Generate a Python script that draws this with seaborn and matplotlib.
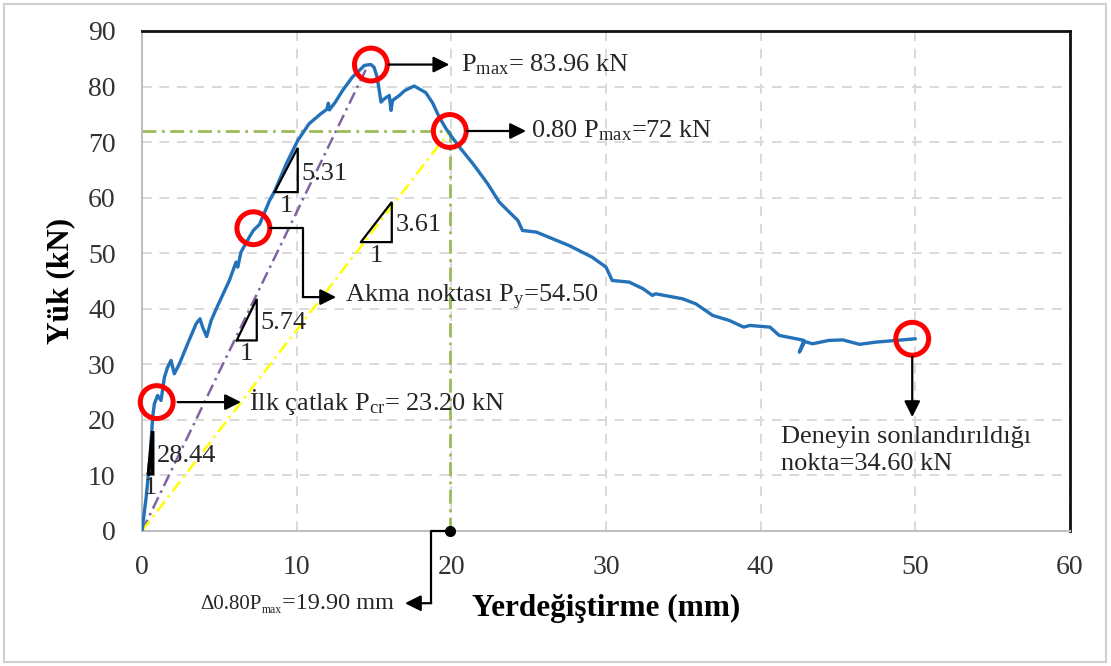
import matplotlib
matplotlib.use("Agg")
import matplotlib.pyplot as plt
import pandas as pd
import seaborn as sns
from matplotlib.patches import Rectangle

# Load-displacement record (mm, kN)
disp = [0, 0.27, 0.52, 0.69, 0.80, 1.01, 1.23, 1.45, 1.66, 1.88, 2.09, 2.42, 2.95,
        3.50, 3.75, 3.92, 4.18, 4.47, 4.90, 5.65, 6.08, 6.19, 6.40, 6.94, 7.20,
        7.60, 8.25, 8.60, 9.33, 10.07, 10.80, 11.56, 11.95, 12.05, 12.12, 12.50,
        12.97, 13.60, 14.16, 14.38, 14.60, 14.80, 15.00, 15.20, 15.34, 15.45,
        15.67, 15.99, 16.10, 16.20, 16.64, 17.00, 17.60, 18.35, 18.80, 19.20,
        19.66, 20.20, 20.70, 21.40, 22.35, 23.10, 23.75, 24.30, 24.60, 25.50,
        26.55, 27.60, 29.10, 30.00, 30.40, 31.50, 32.40, 33.00, 33.20, 34.95,
        35.80, 36.90, 37.97, 38.90, 39.30, 40.60, 41.20, 42.30, 42.80, 42.50,
        42.85, 43.35, 44.40, 45.30, 46.40, 47.45, 48.75, 50.00]
load = [0, 6.1, 13.3, 20.5, 22.9, 24.4, 23.5, 27.7, 29.5, 30.7, 28.3, 30.1, 33.7,
        37.3, 38.2, 36.7, 35.0, 37.9, 40.6, 45.1, 48.4, 47.5, 50.2, 52.9, 54.1,
        55.2, 59.5, 61.3, 66.1, 70.3, 73.3, 75.1, 75.9, 77.0, 75.8, 77.2,
        79.3, 81.7, 83.2, 83.8, 83.9, 83.96, 83.5, 81.7, 79.3, 77.2,
        77.8, 78.4, 75.7, 77.5, 78.4, 79.3, 80.1, 78.9, 77.0, 74.6,
        72.4, 70.3, 68.5, 66.1, 62.5, 59.2, 57.4, 55.9, 54.1, 53.8,
        52.6, 51.4, 49.3, 47.5, 45.1, 44.8, 43.6, 42.4, 42.7, 41.8,
        40.9, 38.8, 37.9, 36.7, 37.0, 36.7, 35.2, 34.6, 34.3, 32.2,
        34.1, 33.7, 34.3, 34.4, 33.6, 34.0, 34.3, 34.6]

# Characteristic points
x_cr, p_cr = 0.95, 23.20
x_y, p_y = 7.2, 54.50
x_max, p_max = 14.8, 83.96
x_80, p_80 = 19.9, 72.0
x_end, p_end = 49.8, 34.60

# Stiffness slopes
k_init = 28.44
k_pre = 5.74
k_curve = 5.31
k_sec = 3.61

x_ticks = [0, 10, 20, 30, 40, 50, 60]
y_ticks = [0, 10, 20, 30, 40, 50, 60, 70, 80, 90]

sns.set_theme(style="white")
plt.rcParams["font.family"] = ["Liberation Serif", "DejaVu Serif"]
plt.rcParams["mathtext.fontset"] = "custom"
plt.rcParams["mathtext.rm"] = "Liberation Serif"
plt.rcParams["mathtext.it"] = "Liberation Serif:italic"
plt.rcParams["mathtext.bf"] = "Liberation Serif:bold"

W, H = 1111, 666
fig = plt.figure(figsize=(W / 100, H / 100), dpi=100)
ax = fig.add_axes([142 / W, 1 - 531 / H, (1070 - 142) / W, (531 - 31) / H])

FS = 19
BLUE = "#2372b9"
RED = "#ff0000"
GREEN = "#9bbb59"
PURPLE = "#8064a2"
YELLOW = "#ffff00"
DASHDOT = (0, (5, 2, 1, 2))

ax.set_xlim(0, 60)
ax.set_ylim(0, 90)
ax.set_xticks(x_ticks)
ax.set_yticks(y_ticks)
ax.grid(True, color="#d9d9d9", linestyle=(0, (5, 4)), linewidth=1.4)
ax.tick_params(axis="both", length=0, labelsize=20, labelcolor="#333333")
ax.tick_params(axis="x", pad=17)
ax.tick_params(axis="y", pad=19)
for side in ("left", "bottom"):
    ax.spines[side].set_color("#bfbfbf")
    ax.spines[side].set_linewidth(1.5)
for side in ("top", "right"):
    ax.spines[side].set_color("#111111")
    ax.spines[side].set_linewidth(2)

# Reference lines
ax.plot([0, p_max / k_pre], [0, p_max], color=PURPLE, lw=1.8, ls=DASHDOT, zorder=2)
ax.plot([0, x_80], [0, p_80], color=YELLOW, lw=1.8, ls=DASHDOT, zorder=2)
ax.plot([0, x_80], [p_80, p_80], color=GREEN, lw=2, ls=DASHDOT, zorder=2)
ax.plot([x_80, x_80], [0, p_80], color=GREEN, lw=2, ls=DASHDOT, zorder=2)

# Measured curve
df = pd.DataFrame({"Yerdeğiştirme (mm)": disp, "Yük (kN)": load})
sns.lineplot(data=df, x="Yerdeğiştirme (mm)", y="Yük (kN)", sort=False,
             estimator=None, color=BLUE, lw=2.4, ax=ax, zorder=3)

# Highlighted points
pts = pd.DataFrame({"x": [x_cr, x_y, x_max, x_80, x_end],
                    "y": [p_cr, p_y, p_max, p_80, p_end]})
sns.scatterplot(data=pts, x="x", y="y", s=560, marker="o", facecolor="none",
                edgecolor=RED, linewidth=3.6, ax=ax, zorder=5, clip_on=False)

ax.set_xlabel("Yerdeğiştirme (mm)", fontsize=22.5, fontweight="bold", color="black")
ax.set_ylabel("Yük (kN)", fontsize=22.5, fontweight="bold", color="black")
ax.xaxis.set_label_coords(0.5, -0.125)
ax.yaxis.set_label_coords(-0.072, 0.5)


def slope_triangle(x0, y0, dx, k, label, lw=1.6):
    h = k * dx
    ax.plot([x0, x0 + dx, x0 + dx, x0], [y0, y0, y0 + h, y0], color="black",
            lw=lw, zorder=4, solid_joinstyle="miter")
    ax.text(x0 + dx + 0.25, y0 + 0.42 * h, label, fontsize=FS, va="center", ha="left")
    ax.text(x0 + dx / 2, y0 - 2.5, "1", fontsize=FS, va="center", ha="center")


slope_triangle(0.42, 10.3, 0.27, k_init, f"{k_init:.2f}", lw=2.6)
slope_triangle(6.12, 34.3, 1.3, k_pre, f"{k_pre:.2f}")
slope_triangle(8.57, 61.0, 1.5, k_curve, f"{k_curve:.2f}")
slope_triangle(14.15, 52.0, 2.0, k_sec, f"{k_sec:.2f}")

ARROW = dict(arrowstyle="-|>", color="black", lw=1.6, mutation_scale=24,
             shrinkA=0, shrinkB=0)


def arrow(x0, y0, x1, y1):
    ax.annotate("", xy=(x1, y1), xytext=(x0, y0), arrowprops=ARROW,
                annotation_clip=False, zorder=6)


# First crack
arrow(2.3, p_cr, 6.4, p_cr)
ax.text(6.95, p_cr, "İlk çatlak P$_{\\mathrm{cr}}$= 23.20 kN", fontsize=FS, va="center")

# Yield point
ax.plot([8.3, 10.4, 10.4], [p_y, p_y, 42.1], color="black", lw=1.6, zorder=6)
arrow(10.4, 42.1, 12.55, 42.1)
ax.text(13.1, 42.1, "Akma noktası P$_{\\mathrm{y}}$=54.50", fontsize=FS, va="center")

# Peak load
arrow(15.95, p_max, 19.87, p_max)
ax.text(20.65, p_max, "P$_{\\mathrm{max}}$= 83.96 kN", fontsize=FS, va="center")

# 0.80 Pmax
arrow(21.0, p_80, 24.83, p_80)
ax.text(25.15, p_80, "0.80 P$_{\\mathrm{max}}$=72 kN", fontsize=FS, va="center")

# End of test
arrow(x_end, 31.4, x_end, 20.5)
ax.text(41.3, 16.9, "Deneyin sonlandırıldığı", fontsize=FS, va="center")
ax.text(41.3, 12.1, "nokta=34.60 kN", fontsize=FS, va="center")

# Displacement at 0.80 Pmax
ax.plot([x_80], [0], marker="o", ms=7, color="black", clip_on=False, zorder=7)
ax.plot([x_80, 18.7, 18.7], [0, 0, -13.0], color="black", lw=1.6, clip_on=False, zorder=6)
arrow(18.7, -13.0, 17.0, -13.0)
t_val = ax.text(16.3, -13.0, "=19.90 mm", fontsize=17.5, va="center", ha="right")
t_sub = ax.annotate("max", xy=(0, 0), xycoords=t_val, xytext=(0, -1.5),
                    textcoords="offset points", fontsize=8.5, ha="right", va="bottom")
ax.annotate("Δ0.80P", xy=(0, 0), xycoords=t_sub, xytext=(0, 1.2),
            textcoords="offset points", fontsize=15, ha="right", va="bottom")

fig.patches.append(Rectangle((4 / W, 4 / H), 1102 / W, 658 / H, transform=fig.transFigure,
                             fill=False, edgecolor="#d0d0d0", lw=1.5))

fig.savefig("out.png", dpi=100, facecolor="white")
